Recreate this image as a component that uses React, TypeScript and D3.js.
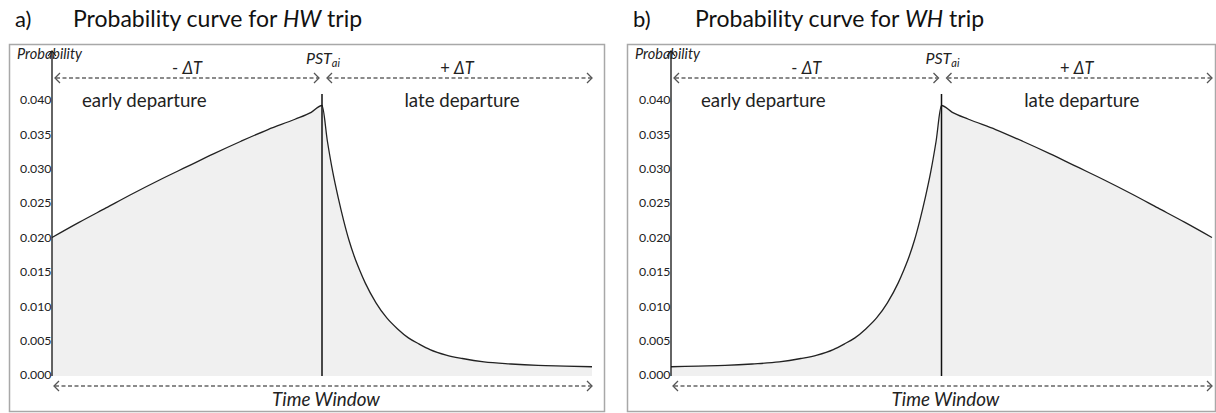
import React from "react";
import * as d3 from "d3";

// ---- data ----
const yTicks = [0, 0.005, 0.01, 0.015, 0.02, 0.025, 0.03, 0.035, 0.04];
const pstTime = 50;

// HW trip (home -> work)
const hwTime = [0, 5, 10, 15, 20, 25, 30, 35, 40, 45, 48, 50, 51, 52, 53, 54, 55, 56, 57, 58, 60, 62, 64, 66, 68, 70, 73, 76, 80, 85, 90, 95, 100];
const hwProb = [0.02, 0.0222, 0.0243, 0.0264, 0.0284, 0.0303, 0.0322, 0.034, 0.0357, 0.0372, 0.0382, 0.0392, 0.034, 0.0295, 0.0258, 0.0225, 0.0196, 0.0172, 0.0152, 0.0134, 0.0105, 0.0083, 0.0067, 0.0054, 0.0045, 0.0037, 0.0029, 0.0024, 0.0019, 0.0016, 0.0014, 0.0013, 0.0012];

// WH trip (work -> home)
const whTime = [0, 5, 10, 15, 20, 24, 27, 30, 32, 34, 36, 38, 40, 42, 43, 44, 45, 46, 47, 48, 49, 50, 52, 55, 60, 65, 70, 75, 80, 85, 90, 95, 100];
const whProb = [0.0012, 0.0013, 0.0014, 0.0016, 0.0019, 0.0024, 0.0029, 0.0037, 0.0045, 0.0054, 0.0067, 0.0083, 0.0105, 0.0134, 0.0152, 0.0172, 0.0196, 0.0225, 0.0258, 0.0295, 0.034, 0.0392, 0.0382, 0.0372, 0.0357, 0.034, 0.0322, 0.0303, 0.0284, 0.0264, 0.0243, 0.0222, 0.02];

const FONT = "Lato, 'Open Sans', sans-serif";

type PanelProps = {
  frameX: number;
  frameW: number;
  axisX: number;
  endX: number;
  letter: string;
  tripCode: string;
  titleX: number;
  time: number[];
  prob: number[];
};

function Chevron({ x, y, dir }: { x: number; y: number; dir: 1 | -1 }) {
  return (
    <path
      d={`M${x - dir * 5},${y - 5} L${x},${y} L${x - dir * 5},${y + 5}`}
      fill="none"
      stroke="#555"
      strokeWidth={1.3}
    />
  );
}

function DashedArrow({ x1, x2, y }: { x1: number; x2: number; y: number }) {
  return (
    <g>
      <line x1={x1 + 1} x2={x2 - 1} y1={y} y2={y} stroke="#666" strokeWidth={1.5} strokeDasharray="4,2.5" />
      <Chevron x={x1} y={y} dir={-1} />
      <Chevron x={x2} y={y} dir={1} />
    </g>
  );
}

function Panel(p: PanelProps) {
  const top = 44;
  const bottom = 412;
  const y = d3.scaleLinear().domain([0, 0.04]).range([375, 100]);
  const x = d3.scaleLinear().domain([0, 100]).range([p.axisX, p.endX]);
  const pts = p.time.map((t, i) => [t, p.prob[i]] as [number, number]);
  const area = d3
    .area<[number, number]>()
    .x((d) => x(d[0]))
    .y0(y(0) + 1)
    .y1((d) => y(d[1]))
    .curve(d3.curveMonotoneX);
  const line = d3
    .line<[number, number]>()
    .x((d) => x(d[0]))
    .y((d) => y(d[1]))
    .curve(d3.curveMonotoneX);
  const px = x(pstTime);
  const fmt = d3.format(".3f");
  return (
    <g>
      <text x={p.frameX + 6} y={27} fontFamily={FONT} fontSize={22} fill="#111">
        {p.letter}
      </text>
      <text x={p.titleX} y={27} fontFamily={FONT} fontSize={23} fill="#111">
        Probability curve for <tspan fontStyle="italic">{p.tripCode}</tspan> trip
      </text>
      <rect x={p.frameX + 0.5} y={top + 0.5} width={p.frameW} height={bottom - top - 1} fill="#fff" stroke="#a8a8a8" strokeWidth={1.5} />
      <path d={area(pts) || ""} fill="#f0f0f0" />
      <path d={line(pts) || ""} fill="none" stroke="#222" strokeWidth={1.3} />
      <line x1={px} x2={px} y1={94} y2={y(0) + 1} stroke="#111" strokeWidth={1.5} />
      <line x1={p.axisX} x2={p.axisX} y1={51} y2={y(0) + 1} stroke="#111" strokeWidth={1.3} />
      <path d={`M${p.axisX - 4},${56} L${p.axisX},${51} L${p.axisX + 4},${56}`} fill="none" stroke="#111" strokeWidth={1.1} />
      {yTicks.map((t) => (
        <text key={t} x={p.axisX - 0.5} y={y(t)} dy="0.35em" textAnchor="end" fontFamily={FONT} fontSize={12.3} fill="#222">
          {fmt(t)}
        </text>
      ))}
      <text x={p.frameX + 8} y={59} fontFamily={FONT} fontSize={14.5} fontStyle="italic" fill="#222">
        Probability
      </text>
      <text x={px - 16} y={64} fontFamily={FONT} fontSize={16} fontStyle="italic" fill="#222">
        PST<tspan fontSize={11} dy={3}>ai</tspan>
      </text>
      <DashedArrow x1={p.axisX + 3} x2={px - 3} y={78} />
      <DashedArrow x1={px + 5} x2={p.endX} y={78} />
      <text x={(p.axisX + px) / 2} y={74} textAnchor="middle" fontFamily={FONT} fontSize={16.5} fill="#222">
        - <tspan fontStyle="italic">ΔT</tspan>
      </text>
      <text x={(px + p.endX) / 2} y={74} textAnchor="middle" fontFamily={FONT} fontSize={16.5} fill="#222">
        + <tspan fontStyle="italic">ΔT</tspan>
      </text>
      <text x={p.axisX + 30} y={107} fontFamily={FONT} fontSize={18.7} fill="#222">
        early departure
      </text>
      <text x={(px + p.endX) / 2 + 5} y={107} textAnchor="middle" fontFamily={FONT} fontSize={18.7} fill="#222">
        late departure
      </text>
      <DashedArrow x1={p.axisX + 2} x2={p.endX} y={386} />
      <text x={(p.axisX + p.endX) / 2 + 4} y={406} textAnchor="middle" fontFamily={FONT} fontSize={18.8} fontStyle="italic" fill="#222">
        Time Window
      </text>
    </g>
  );
}

export default function App() {
  return (
    <svg width={1216} height={413} style={{ position: "absolute", left: 0, top: 0, display: "block", background: "#fff" }}>
      <Panel frameX={9} frameW={595} axisX={52} endX={592} letter="a)" tripCode="HW" titleX={73} time={hwTime} prob={hwProb} />
      <Panel frameX={627} frameW={588} axisX={671} endX={1212} letter="b)" tripCode="WH" titleX={695} time={whTime} prob={whProb} />
    </svg>
  );
}
